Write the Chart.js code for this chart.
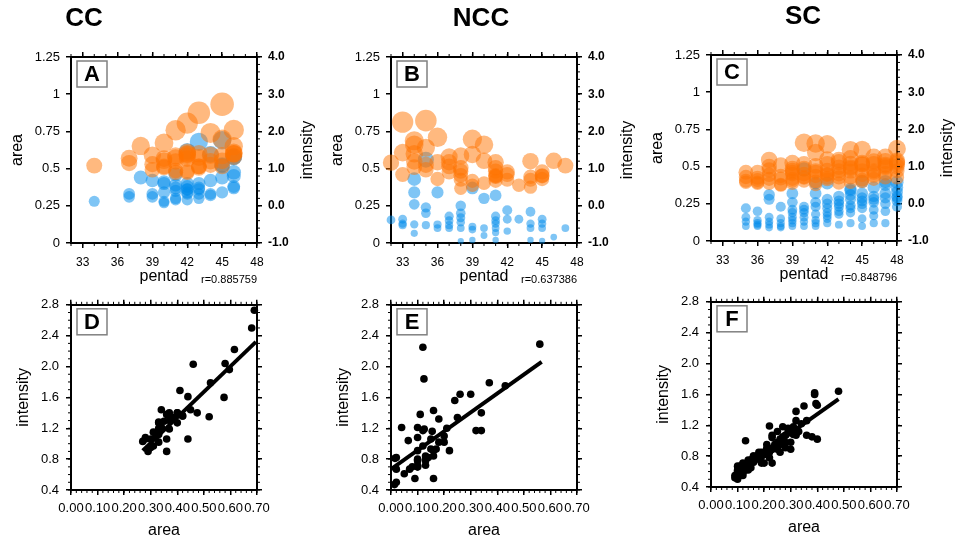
<!DOCTYPE html>
<html>
<head>
<meta charset="utf-8">
<title>CC / NCC / SC</title>
<script src="https://cdn.jsdelivr.net/npm/chart.js@4.4.1/dist/chart.umd.min.js"></script>
<style>
  html, body { margin: 0; padding: 0; background: #fff; }
  #fig { position: relative; width: 955px; height: 538px; overflow: hidden; background: #fff; }
  #fig canvas { position: absolute; }
</style>
</head>
<body>
<div id="fig">
  <canvas id="chartA" width="320" height="300" style="left:0;top:0"></canvas>
  <canvas id="chartB" width="320" height="300" style="left:320px;top:0"></canvas>
  <canvas id="chartC" width="320" height="300" style="left:640px;top:-2px"></canvas>
  <canvas id="chartD" width="320" height="250" style="left:0;top:290px"></canvas>
  <canvas id="chartE" width="320" height="250" style="left:320px;top:290px"></canvas>
  <canvas id="chartF" width="320" height="250" style="left:640px;top:287px"></canvas>
</div>
<script>
// one entry per sample: pentad, rain-belt area, intensity

// CC
const ccPentad = [34, 37, 37, 38, 39, 39, 39, 40, 40, 40, 40, 40,
  41, 41, 41, 41, 41, 41, 42, 42, 42, 42, 42, 42, 42, 42,
  43, 43, 43, 43, 43, 43, 44, 44, 44, 44, 45, 45, 45, 45, 45,
  46, 46, 46, 46, 46, 46];
const ccArea = [0.28, 0.33, 0.31, 0.44, 0.42, 0.33, 0.31, 0.41, 0.27, 0.34, 0.40, 0.28,
  0.46, 0.35, 0.29, 0.30, 0.37, 0.39, 0.615, 0.29, 0.36, 0.38, 0.40, 0.33, 0.36, 0.34,
  0.68, 0.30, 0.37, 0.40, 0.36, 0.33, 0.596, 0.33, 0.32, 0.42, 0.69, 0.34, 0.44, 0.52, 0.525,
  0.45, 0.38, 0.37, 0.576, 0.58, 0.475];
const ccIntensity = [1.08, 1.28, 1.15, 1.61, 1.36, 1.12, 0.97, 1.69, 1.03, 1.21, 1.27, 1.06,
  2.03, 1.29, 0.90, 0.95, 1.19, 1.34, 2.22, 0.93, 1.38, 1.34, 1.40, 1.27, 0.90, 1.44,
  2.50, 1.06, 1.30, 1.40, 1.06, 1.02, 1.96, 1.20, 1.10, 1.36, 2.73, 1.21, 1.06, 1.35, 1.79,
  1.44, 1.33, 1.40, 1.60, 2.04, 1.40];

// NCC
const nccPentad = [32, 33, 33, 33, 34, 34, 34, 34, 34, 35, 35, 35, 35, 36, 36, 36,
  37, 37, 37, 37, 38, 38, 38, 38, 38, 38, 39, 39, 39, 39, 40, 40, 40,
  41, 41, 41, 41, 41, 41, 41, 42, 42, 42, 43, 44, 44, 44, 44, 45, 45, 45, 45, 46, 47];
const nccArea = [0.155, 0.12, 0.16, 0.13, 0.43, 0.34, 0.26, 0.125, 0.065, 0.56, 0.24, 0.20, 0.12, 0.34, 0.124, 0.10,
  0.18, 0.15, 0.12, 0.10, 0.25, 0.20, 0.17, 0.14, 0.10, 0.013, 0.37, 0.11, 0.09, 0.02, 0.30, 0.10, 0.05,
  0.32, 0.18, 0.15, 0.13, 0.10, 0.07, 0.02, 0.22, 0.16, 0.08, 0.16, 0.21, 0.13, 0.10, 0.02, 0.16, 0.13, 0.10, 0.015, 0.04, 0.10];
const nccIntensity = [1.16, 2.25, 1.43, 0.84, 1.75, 1.40, 1.64, 1.19, 1.04, 2.29, 1.56, 1.10, 0.97, 1.17, 1.84, 0.72,
  1.32, 1.06, 1.17, 0.91, 1.34, 1.02, 0.93, 0.82, 0.70, 0.47, 1.79, 1.38, 0.55, 0.67, 1.64, 1.21, 0.61,
  1.17, 1.02, 0.93, 0.80, 0.78, 0.67, 0.82, 0.91, 0.84, 0.70, 0.55, 1.20, 0.78, 0.70, 0.50, 0.91, 0.72, 0.80, 0.81, 1.21, 1.08];

// SC (one row per pentad)
const scPentad = [
  35, 35, 35, 35,
  36, 36, 36, 36, 36,
  37, 37, 37, 37, 37, 37,
  38, 38, 38, 38, 38,
  39, 39, 39, 39, 39, 39, 39, 39,
  40, 40, 40, 40, 40, 40, 40,
  41, 41, 41, 41, 41, 41, 41, 41,
  42, 42, 42, 42, 42, 42, 42, 42,
  43, 43, 43, 43, 43, 43, 43,
  44, 44, 44, 44, 44, 44, 44, 44,
  45, 45, 45, 45, 45, 45, 45, 45,
  46, 46, 46, 46, 46, 46, 46,
  47, 47, 47, 47, 47, 47, 47,
  48, 48, 48, 48, 48, 48, 48];
const scArea = [
  0.22, 0.16, 0.10, 0.13,
  0.20, 0.12, 0.10, 0.11, 0.14,
  0.31, 0.28, 0.16, 0.11, 0.13, 0.09,
  0.23, 0.12, 0.15, 0.09, 0.10,
  0.32, 0.26, 0.21, 0.16, 0.10, 0.12, 0.14, 0.19,
  0.48, 0.23, 0.16, 0.10, 0.19, 0.13, 0.21,
  0.39, 0.32, 0.23, 0.14, 0.10, 0.18, 0.12, 0.26,
  0.39, 0.28, 0.19, 0.12, 0.22, 0.25, 0.15, 0.17,
  0.30, 0.23, 0.27, 0.20, 0.25, 0.11, 0.18,
  0.34, 0.28, 0.19, 0.31, 0.24, 0.35, 0.12, 0.22,
  0.32, 0.25, 0.10, 0.29, 0.22, 0.40, 0.15, 0.27,
  0.36, 0.28, 0.21, 0.12, 0.30, 0.26, 0.17,
  0.40, 0.32, 0.25, 0.12, 0.38, 0.29, 0.20,
  0.36, 0.30, 0.23, 0.33, 0.27, 0.395, 0.29];
const scIntensity = [
  0.85, 0.72, 0.58, 0.62,
  0.85, 0.64, 0.55, 0.58, 0.70,
  1.18, 0.91, 0.78, 0.67, 1.00, 0.55,
  1.04, 0.68, 0.75, 0.52, 0.50,
  1.10, 0.95, 0.90, 0.80, 0.67, 0.55, 0.62, 0.85,
  1.64, 1.07, 0.80, 0.62, 0.72, 0.70, 0.95,
  1.62, 1.38, 0.89, 0.75, 0.52, 0.85, 0.60, 1.02,
  1.60, 1.07, 0.80, 0.66, 1.19, 0.90, 0.70, 0.78,
  0.98, 0.89, 1.18, 0.71, 1.12, 0.56, 0.80,
  1.22, 0.98, 0.71, 1.08, 0.95, 1.45, 0.58, 0.88,
  1.07, 0.89, 0.60, 1.10, 0.78, 1.46, 0.65, 1.05,
  1.26, 1.07, 0.89, 0.67, 1.14, 0.85, 0.76,
  1.02, 1.26, 0.98, 0.71, 1.05, 1.15, 0.82,
  1.07, 0.89, 0.71, 1.12, 1.00, 1.48, 1.16];

// fitted lines (end points) and correlation labels
const ccFitArea = [0.27, 0.696], ccFitIntensity = [0.91, 2.32];
const nccFitArea = [0.0, 0.567], nccFitIntensity = [0.67, 2.06];
const scFitArea = [0.09, 0.48], scFitIntensity = [0.59, 1.54];
const corrLabels = ['r=0.885759', 'r=0.637386', 'r=0.848796'];

const FONT = '"Liberation Sans", Arial, Helvetica, sans-serif';
const ORANGE = 'rgba(255,115,0,0.5)';
const BLUE = 'rgba(0,140,235,0.5)';

Chart.defaults.font.family = FONT;
Chart.defaults.color = '#000';

// small minor tick marks like the NCL frame
const minorTicks = {
  id: 'minorTicks',
  afterDraw(chart) {
    const ctx = chart.ctx;
    ctx.save();
    ctx.strokeStyle = '#000';
    ctx.lineWidth = 1;
    Object.values(chart.scales).forEach(s => {
      const step = s.options.minorStep;
      if (!step) return;
      const n = Math.round((s.max - s.min) / step);
      for (let i = 0; i <= n; i++) {
        const p = s.getPixelForValue(s.min + i * step);
        ctx.beginPath();
        if (s.isHorizontal()) {
          const y = s.position === 'top' ? s.bottom : s.top;
          ctx.moveTo(p, y);
          ctx.lineTo(p, y + (s.position === 'top' ? -3 : 3));
        } else {
          const x = s.position === 'left' ? s.right : s.left;
          ctx.moveTo(x, p);
          ctx.lineTo(x + (s.position === 'left' ? -3 : 3), p);
        }
        ctx.stroke();
      }
    });
    ctx.restore();
  }
};

// panel title, letter box, right axis title and r value
const panelText = {
  id: 'panelText',
  afterDraw(chart, args, o) {
    const ctx = chart.ctx, a = chart.chartArea;
    ctx.save();
    ctx.fillStyle = '#000';
    if (o.title) {
      ctx.font = 'bold 26px ' + FONT;
      ctx.textAlign = 'center';
      ctx.textBaseline = 'middle';
      ctx.fillText(o.title, o.titleX, a.top - 38);
    }
    if (o.letter) {
      ctx.fillStyle = '#fff';
      ctx.fillRect(a.left + 6, a.top + 4, 30, 26);
      ctx.strokeStyle = '#808080';
      ctx.lineWidth = 1.5;
      ctx.strokeRect(a.left + 6, a.top + 4, 30, 26);
      ctx.fillStyle = '#000';
      ctx.font = 'bold 22px ' + FONT;
      ctx.textAlign = 'center';
      ctx.textBaseline = 'middle';
      ctx.fillText(o.letter, a.left + 21, a.top + 18);
    }
    if (o.rightTitle) {
      ctx.save();
      ctx.translate(308, (a.top + a.bottom) / 2);
      ctx.rotate(-Math.PI / 2);
      ctx.font = '16px ' + FONT;
      ctx.textAlign = 'center';
      ctx.textBaseline = 'middle';
      ctx.fillText(o.rightTitle, 0, 0);
      ctx.restore();
    }
    if (o.corr) {
      ctx.font = '11px ' + FONT;
      ctx.textAlign = 'right';
      ctx.textBaseline = 'alphabetic';
      ctx.fillText(o.corr, a.right, a.bottom + 40);
    }
    ctx.restore();
  }
};

function axis(pos, min, max, step, size, o) {
  const horiz = pos === 'top' || pos === 'bottom';
  const ticks = {
    display: !!o.labels, stepSize: step, includeBounds: false,
    autoSkip: false, maxRotation: 0, minRotation: 0,
    padding: o.pad || 6, color: '#000',
    font: { size: o.fontSize || 13, weight: o.bold ? 'bold' : 'normal' }
  };
  if (o.fmt) ticks.callback = o.fmt;
  return {
    type: 'linear', position: pos, min: min, max: max, z: 1,
    minorStep: o.minor || 0,
    border: { color: '#000', width: 2 },
    grid: { drawOnChartArea: false, color: '#000', lineWidth: 1.5, tickLength: 5 },
    ticks: ticks,
    title: o.title
      ? { display: true, text: o.title, color: '#000', font: { size: 16 }, padding: o.titlePad }
      : { display: false },
    afterFit: horiz ? (sc => { sc.height = size; }) : (sc => { sc.width = size; })
  };
}

const fmtPlain = v => String(+v.toFixed(2));
const fmt1 = v => v.toFixed(1);
const fmt2 = v => v.toFixed(2);

function pentadChart(id, title, titleX, letter, corr, pentad, area, intensity) {
  return new Chart(document.getElementById(id), {
    type: 'scatter',
    data: {
      datasets: [
        {
          // lowest order is drawn last, so intensity sits over area
          label: 'intensity', yAxisID: 'y2', clip: false, order: 0,
          data: pentad.map((p, i) => ({ x: p, y: intensity[i] })),
          backgroundColor: ORANGE, borderWidth: 0,
          pointRadius: c => c.raw ? 5.5 + 2.3 * c.raw.y : 5
        },
        {
          label: 'area', yAxisID: 'y', clip: false, order: 1,
          data: pentad.map((p, i) => ({ x: p, y: area[i] })),
          backgroundColor: BLUE, borderWidth: 0,
          pointRadius: c => c.raw ? 3 + 9 * c.raw.y : 3
        }
      ]
    },
    options: {
      responsive: false, animation: false, events: [],
      layout: { padding: 0 },
      plugins: {
        legend: { display: false }, tooltip: { enabled: false },
        panelText: { title: title, titleX: titleX, letter: letter, rightTitle: 'intensity', corr: corr }
      },
      scales: {
        x: axis('bottom', 32, 48, 3, 57, { labels: true, fontSize: 12, pad: 7, minor: 1, title: 'pentad', titlePad: { top: 0, bottom: 14 } }),
        x2: axis('top', 32, 48, 3, 57, { minor: 1 }),
        y: axis('left', 0, 1.25, 0.25, 71, { labels: true, fmt: fmtPlain, title: 'area', titlePad: { top: 8, bottom: 0 } }),
        y2: axis('right', -1, 4, 1, 63, { labels: true, bold: true, fontSize: 12, fmt: fmt1, minor: 0.2 })
      }
    },
    plugins: [minorTicks, panelText]
  });
}

function fitChart(id, letter, area, intensity, fitArea, fitIntensity) {
  return new Chart(document.getElementById(id), {
    type: 'scatter',
    data: {
      datasets: [
        {
          type: 'line', label: 'fit',
          data: fitArea.map((a, i) => ({ x: a, y: fitIntensity[i] })),
          borderColor: '#000', borderWidth: 4, pointRadius: 0, fill: false
        },
        {
          label: 'samples', clip: false,
          data: area.map((a, i) => ({ x: a, y: intensity[i] })),
          backgroundColor: '#000', borderWidth: 0, pointRadius: 3.8
        }
      ]
    },
    options: {
      responsive: false, animation: false, events: [],
      layout: { padding: 0 },
      plugins: {
        legend: { display: false }, tooltip: { enabled: false },
        panelText: { letter: letter }
      },
      scales: {
        x: axis('bottom', 0, 0.7, 0.1, 50, { labels: true, fmt: fmt2, pad: 6, minor: 0.02, title: 'area', titlePad: { top: 0, bottom: 0 } }),
        x2: axis('top', 0, 0.7, 0.1, 13, { minor: 0.02 }),
        y: axis('left', 0.4, 2.8, 0.4, 71, { labels: true, fmt: fmt1, pad: 7, minor: 0.1, title: 'intensity', titlePad: { top: 14, bottom: 0 } }),
        y2: axis('right', 0.4, 2.8, 0.4, 63, { minor: 0.1 })
      }
    },
    plugins: [minorTicks, panelText]
  });
}

pentadChart('chartA', 'CC', 84, 'A', corrLabels[0], ccPentad, ccArea, ccIntensity);
pentadChart('chartB', 'NCC', 161, 'B', corrLabels[1], nccPentad, nccArea, nccIntensity);
pentadChart('chartC', 'SC', 163, 'C', corrLabels[2], scPentad, scArea, scIntensity);

fitChart('chartD', 'D', ccArea, ccIntensity, ccFitArea, ccFitIntensity);
fitChart('chartE', 'E', nccArea, nccIntensity, nccFitArea, nccFitIntensity);
fitChart('chartF', 'F', scArea, scIntensity, scFitArea, scFitIntensity);
</script>
</body>
</html>
